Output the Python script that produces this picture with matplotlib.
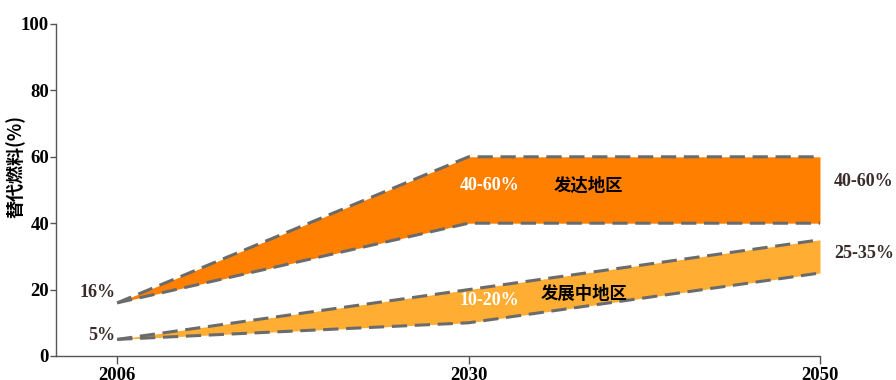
import matplotlib
matplotlib.use("Agg")
import matplotlib.pyplot as plt

years = ['2006', '2030', '2050']
dev_low = [16, 40, 40]
dev_high = [16, 60, 60]
devg_low = [5, 10, 25]
devg_high = [5, 20, 35]
yticks = [0, 20, 40, 60, 80, 100]
cjk = ['Noto Sans CJK SC', 'DejaVu Sans']
serif = ['Liberation Serif', 'DejaVu Serif']

fig = plt.figure(figsize=(8.96, 3.8), dpi=100)
ax = fig.add_axes([56/896, 1-356/380, (820-56)/896, (356-24)/380])

xs = list(range(len(years)))
c_dev = '#FF8000'
c_devg = '#FFAD33'
dash = dict(color='#6b6b6b', lw=2.2, ls=(0, (5, 2.5)))

ax.fill_between(xs, dev_low, dev_high, color=c_dev, lw=0)
ax.fill_between(xs, devg_low, devg_high, color=c_devg, lw=0)
for s in (dev_low, dev_high, devg_low, devg_high):
    ax.plot(xs, s, **dash)

ax.set_xlim(-0.174, 2)
ax.set_ylim(0, 100)
ax.set_xticks(xs)
ax.set_yticks(yticks)
ax.set_xticklabels(years, family=serif, fontweight='bold', fontsize=13.5)
ax.set_yticklabels([str(v) for v in yticks], family=serif, fontweight='bold', fontsize=13.5)
ax.tick_params(axis='x', direction='out', length=6, width=1, color='#555555', pad=2)
ax.tick_params(axis='y', direction='out', length=4, width=1, color='#555555', pad=1)
for sp in ('top', 'right'):
    ax.spines[sp].set_visible(False)
for sp in ('left', 'bottom'):
    ax.spines[sp].set_color('#555555')
    ax.spines[sp].set_linewidth(1)

fig.text(16/896, 1-167/380, '替代燃料(%)', rotation=90, ha='center', va='center',
         family=cjk, fontweight='bold', fontsize=13)

tc = '#3a2c2c'
ax.text(-0.005, 19, '16%', ha='right', va='center', family=serif,
        fontweight='bold', fontsize=13, color=tc)
ax.text(-0.005, 6.2, '5%', ha='right', va='center', family=serif,
        fontweight='bold', fontsize=13, color=tc)
ax.text(1.06, 51.5, '40-60%', ha='center', va='center', family=serif,
        fontweight='bold', fontsize=13, color='white')
ax.text(1.34, 51.3, '发达地区', ha='center', va='center', family=cjk,
        fontweight='bold', fontsize=12.5, color='black')
ax.text(1.06, 16.8, '10-20%', ha='center', va='center', family=serif,
        fontweight='bold', fontsize=13, color='white')
ax.text(1.33, 18.7, '发展中地区', ha='center', va='center', family=cjk,
        fontweight='bold', fontsize=12.5, color='black')
ax.text(2.125, 52.5, '40-60%', ha='center', va='center', family=serif,
        fontweight='bold', fontsize=13, color=tc, clip_on=False)
ax.text(2.125, 30.8, '25-35%', ha='center', va='center', family=serif,
        fontweight='bold', fontsize=13, color=tc, clip_on=False)

fig.savefig('out.png', dpi=100)
